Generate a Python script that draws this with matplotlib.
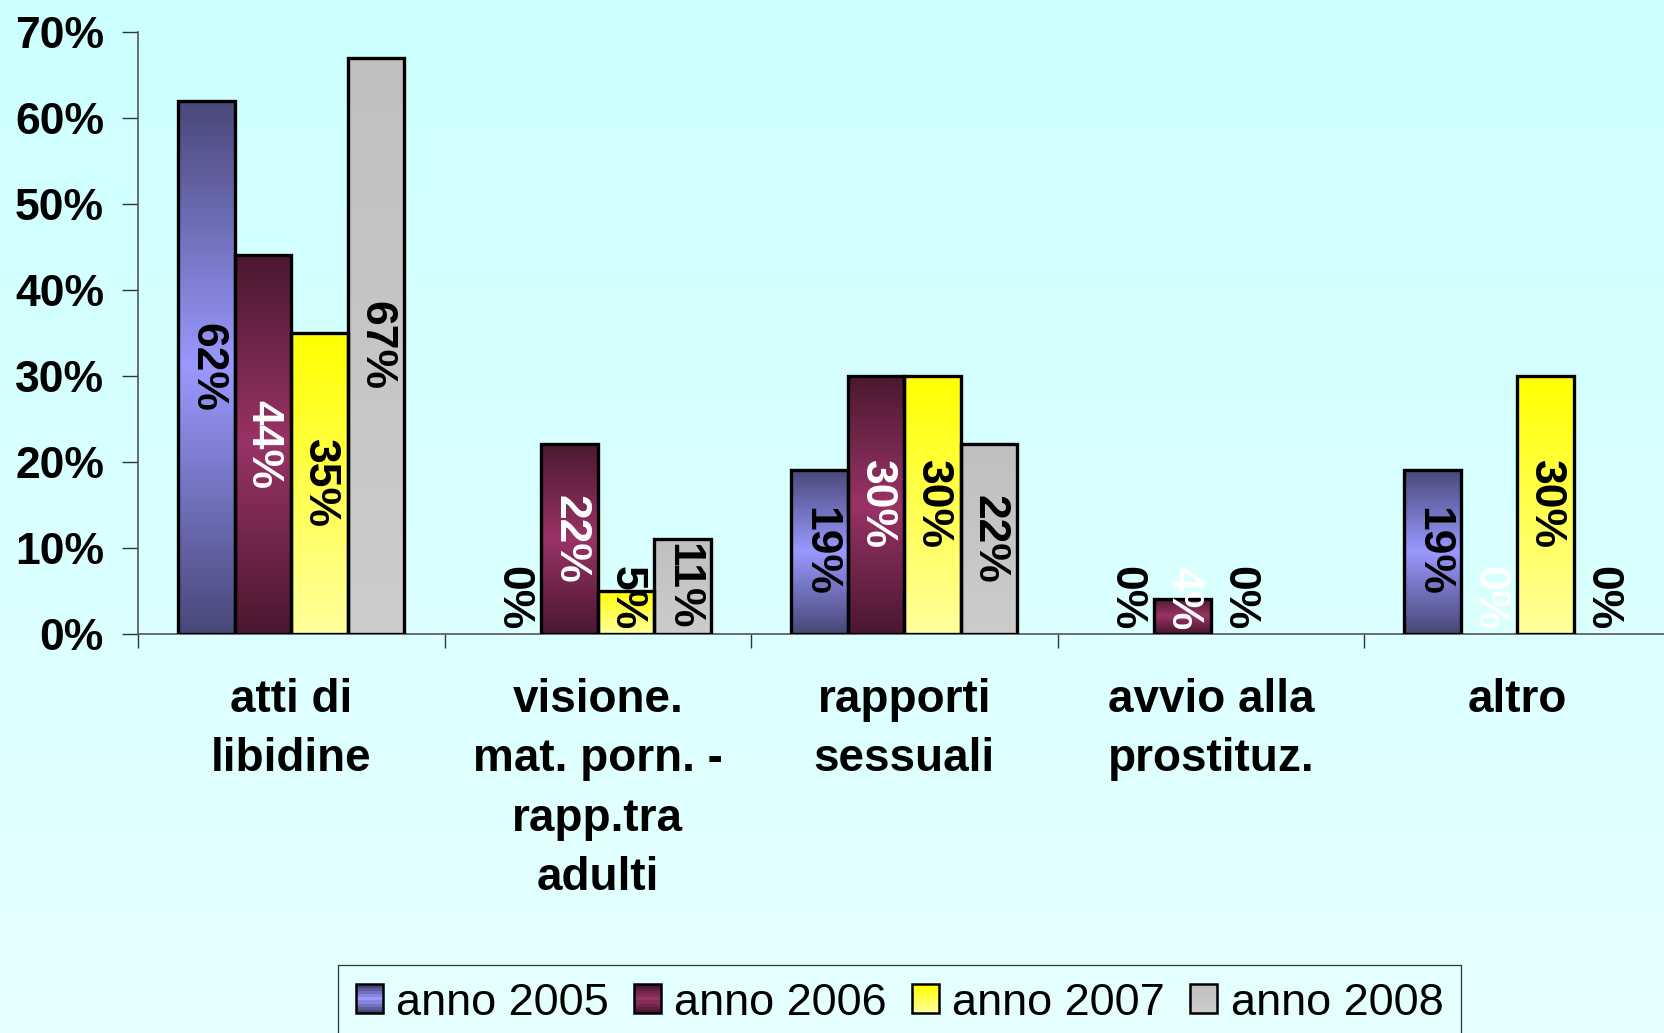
import numpy as np
import matplotlib
matplotlib.use("Agg")
import matplotlib.pyplot as plt
from matplotlib.patches import Rectangle
from matplotlib.legend_handler import HandlerBase
from matplotlib.colors import to_rgb
from matplotlib.font_manager import FontProperties
from matplotlib.ticker import FixedLocator, NullFormatter

# ---------------- data ----------------
categories = ["atti di\nlibidine",
              "visione.\nmat. porn. -\nrapp.tra\nadulti",
              "rapporti\nsessuali",
              "avvio alla\nprostituz.",
              "altro"]
series_names = ["anno 2005", "anno 2006", "anno 2007", "anno 2008"]
v2005 = [62, 0, 19, 0, 19]
v2006 = [44, 22, 30, 4, 0]
v2007 = [35, 5, 30, 0, 30]
v2008 = [67, 11, 22, np.nan, 0]
y_ticks = [0, 10, 20, 30, 40, 50, 60, 70]

# gradient stops (bottom -> top)
grad_2005 = [(0.0, '#484878'), (0.5, '#9999ff'), (1.0, '#484878')]
grad_2006 = [(0.0, '#4a1830'), (0.5, '#993366'), (1.0, '#4a1830')]
grad_2007 = [(0.0, '#ffff9c'), (1.0, '#ffff00')]
grad_2008 = [(0.0, '#cccccc'), (1.0, '#c0c0c0')]
label_colors = ['black', 'white', 'black', 'black']

series = [v2005, v2006, v2007, v2008]
grads = [grad_2005, grad_2006, grad_2007, grad_2008]


def grad_colors(stops, n):
    pos = np.array([s[0] for s in stops])
    cols = np.array([to_rgb(s[1]) for s in stops])
    t = np.linspace(0, 1, n)
    return np.stack([np.interp(t, pos, cols[:, k]) for k in range(3)], axis=1)


W, H, DPI = 1664, 1033, 100
fig = plt.figure(figsize=(W / DPI, H / DPI), dpi=DPI)

# background gradient
bg = fig.add_axes([0, 0, 1, 1], zorder=-10)
bgimg = grad_colors([(0.0, '#e6ffff'), (1.0, '#ccffff')], 256)[:, None, :]
bg.imshow(bgimg, aspect='auto', origin='lower', extent=(0, 1, 0, 1))
bg.set_axis_off()

ax = fig.add_axes([138 / W, (H - 633.5) / H, 5 * 306.5 / W, 601.5 / H])
ax.set_facecolor('none')

x = np.arange(len(categories))
bw = 0.184
offsets = (np.arange(4) - 1.5) * bw

bold = dict(family='Liberation Sans', weight='bold')
texts = []
for i, (vals, stops) in enumerate(zip(series, grads)):
    h = np.nan_to_num(np.array(vals, dtype=float))
    bars = ax.bar(x + offsets[i], h, bw, facecolor='none', edgecolor='black',
                  linewidth=2.4, zorder=3)
    img = grad_colors(stops, 256)[:, None, :]
    for b, v, raw in zip(bars, h, vals):
        if v <= 0:
            b.set_visible(False)
        else:
            ax.imshow(img, extent=(b.get_x(), b.get_x() + b.get_width(), 0, b.get_height()),
                      origin='lower', aspect='auto', interpolation='bilinear', zorder=2)
        if not (isinstance(raw, float) and np.isnan(raw)):
            t = ax.text(b.get_x() + b.get_width() / 2, v / 2, f"{int(v)}%",
                        rotation=270, ha='center', va='center', fontsize=32,
                        color=label_colors[i], zorder=5, **bold)
            texts.append(t)

ax.set_xlim(-0.5, len(categories) - 0.5)
ax.set_ylim(0, 70)

ax.set_yticks(y_ticks)
ax.set_yticklabels([f"{t}%" for t in y_ticks], fontsize=32, **bold)
ax.tick_params(axis='y', direction='out', length=11.5, width=1.0, color='#333333', pad=13)

ax.xaxis.set_major_locator(FixedLocator(np.arange(len(categories) + 1) - 0.5))
ax.xaxis.set_major_formatter(NullFormatter())
ax.xaxis.set_minor_locator(FixedLocator(x))
ax.set_xticklabels(categories, minor=True, fontsize=33, linespacing=1.45, **bold)
ax.tick_params(axis='x', which='major', direction='out', length=10, width=1.0, color='#333333')
ax.tick_params(axis='x', which='minor', length=0, pad=32)

for s in ['top', 'right']:
    ax.spines[s].set_visible(False)
for s in ['left', 'bottom']:
    ax.spines[s].set_color('#555555')
    ax.spines[s].set_linewidth(1.2)

# move labels that would fall below the axis up to sit on the baseline
fig.canvas.draw()
r = fig.canvas.get_renderer()
base_px = ax.transData.transform((0, 0))[1]
for t in texts:
    bb = t.get_window_extent(r)
    if bb.y0 < base_px:
        t.set_va('bottom')
        t.set_y(0.4)


class GradHandler(HandlerBase):
    def __init__(self, stops):
        super().__init__()
        self.stops = stops

    def create_artists(self, legend, orig_handle, xdescent, ydescent, width, height, fontsize, trans):
        n = 9
        cols = grad_colors(self.stops, n)
        arts = []
        for k in range(n):
            arts.append(Rectangle((-xdescent, -ydescent + height * k / n), width, height / n,
                                  facecolor=cols[k], edgecolor='none', transform=trans))
        arts.append(Rectangle((-xdescent, -ydescent), width, height, facecolor='none',
                              edgecolor='black', linewidth=1.8, transform=trans))
        return arts


proxies = [Rectangle((0, 0), 1, 1) for _ in series_names]
hmap = {p: GradHandler(g) for p, g in zip(proxies, grads)}
leg = fig.legend(proxies, series_names, handler_map=hmap, loc='upper left',
                 bbox_to_anchor=(337.5 / W, 1 - 964.6 / H), ncol=4,
                 prop=FontProperties(family='Liberation Sans', size=32.5),
                 frameon=True, fancybox=False, handlelength=0.6, handleheight=0.6,
                 handletextpad=0.3, columnspacing=0.55, borderpad=0.4, borderaxespad=0)
leg.get_frame().set_edgecolor('black')
leg.get_frame().set_facecolor('none')
leg.get_frame().set_linewidth(0.9)

fig.savefig("out.png", dpi=DPI)
